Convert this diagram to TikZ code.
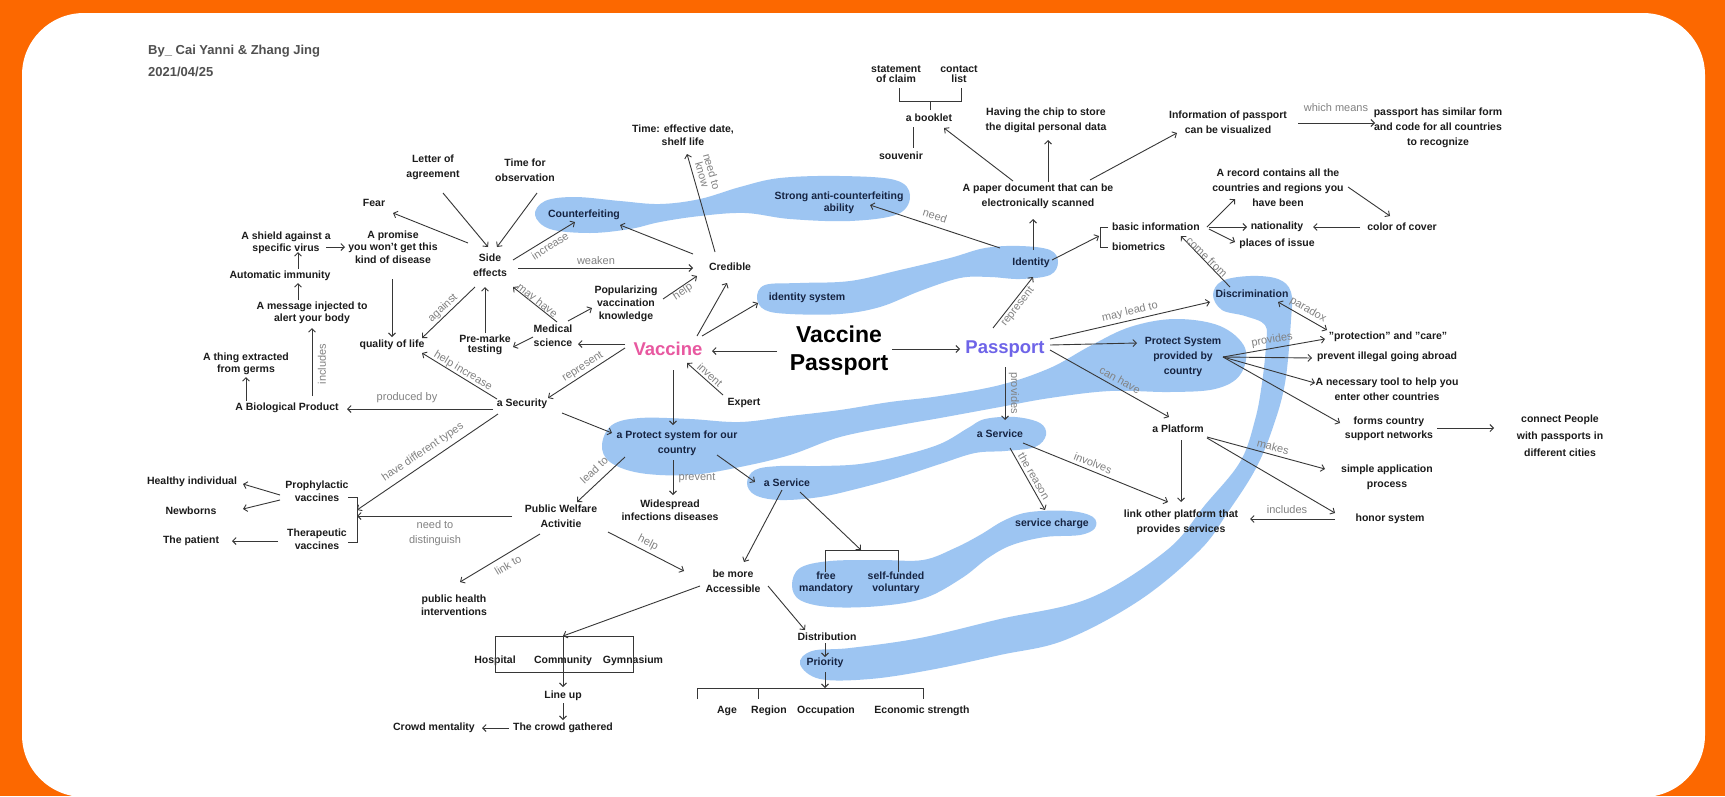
\documentclass[tikz,border=0pt]{standalone}
\usepackage{fontspec}
\setmainfont{Liberation Sans}
\usetikzlibrary{arrows.meta}
\definecolor{orng}{RGB}{252,104,0}
\definecolor{blobc}{RGB}{157,197,242}
\definecolor{ink}{RGB}{28,28,28}
\definecolor{navy}{RGB}{22,36,66}
\definecolor{linec}{RGB}{55,55,55}
\definecolor{labc}{RGB}{130,130,130}
\definecolor{pinkc}{RGB}{232,88,160}
\definecolor{purp}{RGB}{110,100,232}
\definecolor{authc}{RGB}{80,80,80}
\begin{document}
\begin{tikzpicture}[x=1pt,y=-1pt,
 nd/.style={font=\bfseries\fontsize{10.5}{15}\selectfont, text=ink, align=center, inner sep=0pt},
 nds/.style={nd, font=\bfseries\fontsize{10.5}{12.5}\selectfont},
 bn/.style={nd, text=navy},
 bns/.style={nds, text=navy},
 lab/.style={font=\fontsize{11}{11}\selectfont, text=labc, align=center, inner sep=0pt},
 arr/.style={draw=linec, line width=0.9pt, -{Straight Barb[length=3.5pt,width=7pt]}},
 darr/.style={draw=linec, line width=0.9pt, {Straight Barb[length=3.5pt,width=7pt]}-{Straight Barb[length=3.5pt,width=7pt]}},
 ln/.style={draw=linec, line width=0.9pt},
 blob/.style={fill=blobc, draw=none}]

\useasboundingbox (0,0) rectangle (1725,796);
\fill[orng] (0,0) rectangle (1725,796);
\fill[white, rounded corners=62pt] (22,13) rectangle (1705,797);

% ---------- blobs ----------
\fill[blob] plot[smooth cycle, tension=0.6] coordinates {(535,215) (545,201) (575,197) (620,201) (660,204) (700,199) (740,187) (780,178) (840,176) (895,180) (910,195) (898,214) (850,221) (790,219) (745,213) (700,216) (660,222) (630,229) (590,233) (550,229)};
\fill[blob] plot[smooth cycle, tension=0.6] coordinates {(757,298) (765,285) (800,283) (850,281) (900,270) (950,258) (985,248) (1020,246) (1050,250) (1058,262) (1050,275) (1020,279) (990,277) (960,278) (920,291) (880,307) (840,314) (790,314) (765,310)};
\fill[blob] plot[smooth cycle, tension=0.6] coordinates {(602,445) (612,425) (640,418) (690,419) (740,422) (790,416) (840,410) (890,402) (940,396) (1000,385) (1050,368) (1090,346) (1130,327) (1175,319) (1220,326) (1245,348) (1240,375) (1215,389) (1170,392) (1110,391) (1050,398) (1000,407) (940,418) (900,425) (840,437) (790,455) (740,467) (690,475) (640,473) (610,462)};
\fill[blob] plot[smooth cycle, tension=0.6] coordinates {(747,483) (755,470) (780,466) (820,466) (860,464) (900,456) (940,444) (968,428) (985,419) (1015,417) (1040,423) (1046,435) (1035,447) (1005,451) (975,453) (940,464) (900,477) (860,488) (820,497) (780,500) (755,495)};
\fill[blob] plot[smooth cycle, tension=0.6] coordinates {(792,585) (800,568) (830,561) (880,560) (923,560) (955,548) (980,535) (1005,520) (1030,512) (1070,511) (1093,517) (1095,528) (1080,535) (1045,537) (1012,545) (988,558) (962,578) (925,598) (880,606) (830,607) (800,600)};
\fill[blob] plot[smooth cycle, tension=0.6] coordinates {(800,664) (812,651) (850,648) (920,638) (1000,619) (1090,598) (1167,550) (1205,505) (1240,462) (1255,420) (1262,383) (1266,345) (1265,325) (1245,316) (1222,310) (1213,295) (1222,281) (1250,276) (1278,279) (1291,292) (1291,320) (1285,383) (1272,430) (1255,470) (1228,512) (1200,550) (1140,600) (1065,640) (1000,655) (930,670) (870,679) (820,679)};

% ---------- nodes ----------
\node[nd, anchor=west, font=\bfseries\fontsize{13}{16}\selectfont, text=authc] (auth) at (148,51) {By\_ Cai Yanni \& Zhang Jing};
\node[nd, anchor=west, font=\bfseries\fontsize{13}{16}\selectfont, text=authc] (date) at (148,72) {2021/04/25};

\node[nd] (letter) at (433,167) {Letter of\\agreement};
\node[nd] (timeobs) at (525,170) {Time for\\observation};
\node[nd] (fear) at (374,203) {Fear};
\node[nds] (shield) at (286,243) {A shield against a\\specific virus};
\node[nds] (promise) at (393,247) {A promise\\you won't get this\\kind of disease};
\node[nd] (side) at (490,265) {Side\\effects};
\node[nd] (autoimm) at (280,276) {Automatic immunity};
\node[nds] (message) at (312,313) {A message injected to\\alert your body};
\node[nds] (thing) at (246,364) {A thing extracted\\from germs};
\node[nd] (bio) at (287,408) {A Biological Product};
\node[nd] (qol) at (392,345) {quality of life};
\node[nd, font=\bfseries\fontsize{10.5}{10}\selectfont] (premarke) at (485,345) {Pre-marke\\testing};
\node[nd, font=\bfseries\fontsize{10.5}{14}\selectfont] (medsci) at (553,336) {Medical\\science};
\node[nd] (security) at (522,404) {a Security};
\node[nds, font=\bfseries\fontsize{10.5}{13}\selectfont] (popular) at (626,304) {Popularizing\\vaccination\\knowledge};
\node[nd] (credible) at (730,267) {Credible};
\node[nds] (timeeff) at (683,135) {Time: effective date,\\shelf life};
\node[bn] (counterf) at (584,215) {Counterfeiting};
\node[bns] (strong) at (839,203) {Strong anti-counterfeiting\\ability};
\node[bn] (idsys) at (807,298) {identity system};
\node[font=\bfseries\fontsize{18.5}{20}\selectfont, text=pinkc, inner sep=0pt] (vaccine) at (668,349) {Vaccine};
\node[font=\bfseries\fontsize{23}{28}\selectfont, align=center, text=black, inner sep=0pt] (title) at (839,351) {Vaccine\\Passport};
\node[font=\bfseries\fontsize{18.5}{20}\selectfont, text=purp, inner sep=0pt] (passport) at (1005,349) {Passport};
\node[nd] (expert) at (744,403) {Expert};
\node[bn] (protect) at (677,443) {a Protect system for our\\country};
\node[nds] (widespread) at (670,510) {Widespread\\infections diseases};
\node[bn] (service2) at (787,483) {a Service};
\node[nd] (welfare) at (561,516) {Public Welfare\\Activitie};
\node[nds, font=\bfseries\fontsize{10.5}{13.5}\selectfont] (pubhealth) at (454,605) {public health\\interventions};
\node[nd] (bemore) at (733,581) {be more\\Accessible};
\node[bns] (free) at (826,583) {free\\mandatory};
\node[bns] (selff) at (896,583) {self-funded\\voluntary};
\node[nd] (hospital) at (495,661) {Hospital};
\node[nd] (community) at (563,661) {Community};
\node[nd] (gym) at (633,661) {Gymnasium};
\node[nd] (lineup) at (563,696) {Line up};
\node[nd] (crowd) at (563,728) {The crowd gathered};
\node[nd] (mentality) at (434,728) {Crowd mentality};
\node[nd] (distribution) at (827,637) {Distribution};
\node[bn] (priority) at (825,663) {Priority};
\node[nd] (age) at (727,711) {Age};
\node[nd] (region) at (769,711) {Region};
\node[nd] (occupation) at (826,711) {Occupation};
\node[nd] (econ) at (922,711) {Economic strength};
\node[nd] (healthy) at (192,482) {Healthy individual};
\node[nd] (newborns) at (191,511) {Newborns};
\node[nd] (patient) at (191,541) {The patient};
\node[nds] (prophy) at (317,491) {Prophylactic\\vaccines};
\node[nds] (thera) at (317,539) {Therapeutic\\vaccines};

\node[nd, font=\bfseries\fontsize{10.5}{10}\selectfont] (statement) at (896,74) {statement\\of claim};
\node[nd, font=\bfseries\fontsize{10.5}{10}\selectfont] (contact) at (959,74) {contact\\list};
\node[nd] (booklet) at (929,118) {a booklet};
\node[nd] (souvenir) at (901,156) {souvenir};
\node[nd] (having) at (1046,120) {Having the chip to store\\the digital personal data};
\node[nd] (paper) at (1038,196) {A paper document that can be\\electronically scanned};
\node[nd] (info) at (1228,122) {Information of passport\\can be visualized};
\node[nd] (similar) at (1438,128) {passport has similar form\\and code for all countries\\to recognize};
\node[bn] (identity) at (1031,263) {Identity};
\node[nd, anchor=west] (basic) at (1112,227) {basic information};
\node[nd, anchor=west] (biometrics) at (1112,247) {biometrics};
\node[nd] (record) at (1278,188) {A record contains all the\\countries and regions you\\have been};
\node[nd] (nationality) at (1277,227) {nationality};
\node[nd] (colorcover) at (1402,227) {color of cover};
\node[nd] (places) at (1277,244) {places of issue};
\node[bn] (discrim) at (1252,294) {Discrimination};
\node[bn] (protsys) at (1183,357) {Protect System\\provided by\\country};
\node[nd] (platform) at (1178,429) {a Platform};
\node[bn] (service1) at (1000,434) {a Service};
\node[nd] (protection) at (1388,337) {"protection" and "care"};
\node[nd] (prevent) at (1387,357) {prevent illegal going abroad};
\node[nd] (necessary) at (1387,389) {A necessary tool to help you\\enter other countries};
\node[nd, font=\bfseries\fontsize{10.5}{14}\selectfont] (forms) at (1389,429) {forms country\\support networks};
\node[nd, font=\bfseries\fontsize{10.5}{17}\selectfont] (connect) at (1560,436) {connect People\\with passports in\\different cities};
\node[nd] (simple) at (1387,477) {simple application\\process};
\node[nd] (honor) at (1390,519) {honor system};
\node[nd] (linkother) at (1181,522) {link other platform that\\provides services};
\node[bn] (servcharge) at (1052,524) {service charge};

% ---------- brackets and helper points ----------
\coordinate (pbrA) at (357,510);
\coordinate (pbrB) at (357,516);
\coordinate (fbr) at (861,550);
\coordinate (hbr) at (563,636);
\coordinate (obr) at (825,688);
\coordinate (bbr) at (1099,236);
\draw[ln] ([shift={(31,6)}]prophy.center) -- ++(9,0) |- ([shift={(31,3)}]thera.center);
\draw[ln] ([shift={(-1,-11)}]free.center) -- ++(0,-22) -| ([shift={(2,-11)}]selff.center);
\draw[ln] ([shift={(0,-25)}]hospital.center) rectangle ([shift={(0,11)}]gym.center);
\draw[ln] ([shift={(-30,-12)}]age.center) -- ++(0,-11) -| ([shift={(1,-12)}]econ.center);
\draw[ln] ([shift={(-11,-12)}]region.center) -- ++(0,-11);
\draw[ln] ([shift={(3,14)}]statement.center) -- ++(0,13) -| ([shift={(2,14)}]contact.center);
\draw[ln] ([shift={(1,-8)}]booklet.center) -- ++(0,-9);
\draw[ln] ([shift={(-16,9)}]booklet.center) -- ([shift={(12,-8)}]souvenir.center);
\draw[ln] ([shift={(-4,0)}]basic.west) -- ++(-8,0) |- ([shift={(-4,0)}]biometrics.west);

% ---------- arrows (left) ----------
\draw[arr] ([shift={(10,26)}]letter.center) -- ([shift={(-2,-18)}]side.center);
\draw[arr] ([shift={(12,23)}]timeobs.center) -- ([shift={(7,-18)}]side.center);
\draw[arr] ([shift={(-22,-22)}]side.center) -- ([shift={(19,10)}]fear.center);
\draw[arr] ([shift={(40,4)}]shield.center) -- ([shift={(-48,0)}]promise.center);
\draw[arr] ([shift={(18,-7)}]autoimm.center) -- ([shift={(12,9)}]shield.center);
\draw[arr] ([shift={(-14,-13)}]message.center) -- ([shift={(18,7)}]autoimm.center);
\draw[arr] ([shift={(25,-12)}]bio.center) -- ([shift={(0,15)}]message.center);
\draw[arr] ([shift={(-41,-7)}]bio.center) -- ([shift={(0,13)}]thing.center);
\draw[arr] ([shift={(-1,32)}]promise.center) -- ([shift={(0,-8)}]qol.center);
\draw[arr] ([shift={(-15,22)}]side.center) -- ([shift={(30,-7)}]qol.center);
\draw[arr] ([shift={(0,-12)}]premarke.center) -- ([shift={(-5,22)}]side.center);
\draw[arr] ([shift={(-20,1)}]medsci.center) -- ([shift={(28,2)}]premarke.center);
\draw[arr] ([shift={(4,-14)}]medsci.center) -- ([shift={(23,22)}]side.center);
\draw[arr] ([shift={(-25,-5)}]security.center) -- ([shift={(30,8)}]qol.center);
\draw[arr] ([shift={(-29,5)}]security.center) -- ([shift={(60,1)}]bio.center);
\draw[arr] ([shift={(-24,10)}]security.center) -- (pbrA);
\draw[arr] ([shift={(-43,-1)}]vaccine.center) -- ([shift={(26,-6)}]security.center);
\draw[arr] ([shift={(28,3)}]side.center) -- ([shift={(-37,1)}]credible.center);
\draw[arr] ([shift={(23,-5)}]side.center) -- ([shift={(-9,7)}]counterf.center);
\draw[arr] ([shift={(-37,-13)}]credible.center) -- ([shift={(36,10)}]counterf.center);
\draw[arr] ([shift={(-15,-15)}]credible.center) -- ([shift={(4,19)}]timeeff.center);
\draw[arr] ([shift={(15,-15)}]medsci.center) -- ([shift={(-34,4)}]popular.center);
\draw[arr] ([shift={(37,-5)}]popular.center) -- ([shift={(-33,9)}]credible.center);
\draw[arr] ([shift={(29,-13)}]vaccine.center) -- ([shift={(-3,16)}]credible.center);
\draw[arr] ([shift={(34,-13)}]vaccine.center) -- ([shift={(-49,5)}]idsys.center);
\draw[arr] ([shift={(-43,-5)}]vaccine.center) -- ([shift={(25,8)}]medsci.center);
\draw[arr] ([shift={(-62,0)}]title.center) -- ([shift={(44,2)}]vaccine.center);
\draw[arr] ([shift={(53,-2)}]title.center) -- ([shift={(-45,0)}]passport.center);
\draw[arr] ([shift={(-21,-8)}]expert.center) -- ([shift={(19,14)}]vaccine.center);
\draw[arr] ([shift={(5,21)}]vaccine.center) -- ([shift={(-4,-18)}]protect.center);
\draw[arr] ([shift={(40,9)}]security.center) -- ([shift={(-65,-10)}]protect.center);
\draw[arr] ([shift={(40,12)}]protect.center) -- ([shift={(-32,-1)}]service2.center);
\draw[arr] ([shift={(-52,14)}]protect.center) -- ([shift={(16,-14)}]welfare.center);
\draw[arr] ([shift={(-4,17)}]protect.center) -- ([shift={(3,-15)}]widespread.center);
\draw[arr] ([shift={(-49,0)}]welfare.center) -- (pbrB);
\draw[arr] ([shift={(-21,18)}]welfare.center) -- ([shift={(6,-23)}]pubhealth.center);
\draw[arr] ([shift={(47,16)}]welfare.center) -- ([shift={(-49,-10)}]bemore.center);
\draw[arr] ([shift={(-5,7)}]service2.center) -- ([shift={(11,-19)}]bemore.center);
\draw[arr] ([shift={(13,9)}]service2.center) -- (fbr);
\draw[arr] ([shift={(-33,5)}]bemore.center) -- (hbr);
\draw[arr] ([shift={(35,5)}]bemore.center) -- ([shift={(-22,-7)}]distribution.center);
\draw[arr] ([shift={(-2,6)}]distribution.center) -- ([shift={(0,-6)}]priority.center);
\draw[arr] ([shift={(0,9)}]priority.center) -- (obr);
\draw[arr] (hbr) -- ([shift={(0,-9)}]lineup.center);
\draw[arr] ([shift={(0,7)}]lineup.center) -- ([shift={(0,-8)}]crowd.center);
\draw[arr] ([shift={(-54,0)}]crowd.center) -- ([shift={(48,0)}]mentality.center);
\draw[arr] ([shift={(-37,4)}]prophy.center) -- ([shift={(51,2)}]healthy.center);
\draw[arr] ([shift={(-37,9)}]prophy.center) -- ([shift={(52,-2)}]newborns.center);
\draw[arr] ([shift={(-39,2)}]thera.center) -- ([shift={(41,0)}]patient.center);

% ---------- arrows (right) ----------
\draw[arr] ([shift={(-31,-15)}]identity.center) -- ([shift={(31,2)}]strong.center);
\draw[arr] ([shift={(2,-13)}]identity.center) -- ([shift={(-5,23)}]paper.center);
\draw[arr] ([shift={(-25,-15)}]paper.center) -- ([shift={(15,10)}]booklet.center);
\draw[arr] ([shift={(10,-14)}]paper.center) -- ([shift={(2,20)}]having.center);
\draw[arr] ([shift={(52,-16)}]paper.center) -- ([shift={(-51,11)}]info.center);
\draw[arr] ([shift={(70,1)}]info.center) -- ([shift={(-63,-5)}]similar.center);
\draw[arr] ([shift={(21,-3)}]identity.center) -- (bbr);
\draw[arr] ([shift={(7,0)}]basic.east) -- ([shift={(-43,11)}]record.center);
\draw[arr] ([shift={(9,0)}]basic.east) -- ([shift={(-30,0)}]nationality.center);
\draw[arr] ([shift={(9,2)}]basic.east) -- ([shift={(-42,-2)}]places.center);
\draw[arr] ([shift={(70,-1)}]record.center) -- ([shift={(-12,-11)}]colorcover.center);
\draw[arr] ([shift={(-42,0)}]colorcover.center) -- ([shift={(36,0)}]nationality.center);
\draw[arr] ([shift={(-22,-7)}]discrim.center) -- ([shift={(-19,9)}]basic.east);
\draw[arr] ([shift={(-12,-21)}]passport.center) -- ([shift={(2,14)}]identity.center);
\draw[arr] ([shift={(45,-10)}]passport.center) -- ([shift={(-42,8)}]discrim.center);
\draw[arr] ([shift={(45,-4)}]passport.center) -- ([shift={(-46,-14)}]protsys.center);
\draw[arr] ([shift={(45,1)}]passport.center) -- ([shift={(-9,-12)}]platform.center);
\draw[arr] ([shift={(0,18)}]passport.center) -- ([shift={(5,-14)}]service1.center);
\draw[darr] ([shift={(26,8)}]discrim.center) -- ([shift={(-61,-7)}]protection.center);
\draw[arr] ([shift={(40,0)}]protsys.center) -- ([shift={(-63,2)}]protection.center);
\draw[arr] ([shift={(40,0)}]protsys.center) -- ([shift={(-75,1)}]prevent.center);
\draw[arr] ([shift={(40,0)}]protsys.center) -- ([shift={(-72,-6)}]necessary.center);
\draw[arr] ([shift={(40,0)}]protsys.center) -- ([shift={(-49,-6)}]forms.center);
\draw[arr] ([shift={(48,-1)}]forms.center) -- ([shift={(-66,-8)}]connect.center);
\draw[arr] ([shift={(29,8)}]platform.center) -- ([shift={(-62,-8)}]simple.center);
\draw[arr] ([shift={(29,9)}]platform.center) -- ([shift={(-55,-6)}]honor.center);
\draw[arr] ([shift={(3,11)}]platform.center) -- ([shift={(0,-20)}]linkother.center);
\draw[arr] ([shift={(-55,0)}]honor.center) -- ([shift={(69,-3)}]linkother.center);
\draw[arr] ([shift={(23,9)}]service1.center) -- ([shift={(-13,-20)}]linkother.center);
\draw[arr] ([shift={(10,14)}]service1.center) -- ([shift={(-7,-14)}]servcharge.center);

% ---------- connector labels ----------
\node[lab] (Lweaken) at (596,261) {weaken};
\node[lab, rotate=33] (Lincrease) at (550,246) {increase};
\node[lab, rotate=-74, font=\fontsize{11}{10}\selectfont] (Lneedknow) at (707,173) {need to\\know};
\node[lab, rotate=43] (Lagainst) at (443,308) {against};
\node[lab, rotate=-38] (Lmayhave) at (537,301) {may have};
\node[lab, rotate=-31] (Lhelpinc) at (463,371) {help increase};
\node[lab] (Lproduced) at (407,398) {produced by};
\node[lab, rotate=34] (Ltypes) at (423,452) {have different types};
\node[lab, rotate=33] (Lrep1) at (583,367) {represent};
\node[lab, rotate=34] (Lhelp1) at (683,292) {help};
\node[lab, rotate=-42] (Linvent) at (710,375) {invent};
\node[lab, rotate=43] (Lleadto) at (594,470) {lead to};
\node[lab] (Lprevent) at (697,478) {prevent};
\node[lab, font=\fontsize{11}{15}\selectfont] (Ldistinguish) at (435,533) {need to\\distinguish};
\node[lab, rotate=31] (Llinkto) at (508,565) {link to};
\node[lab, rotate=-27] (Lhelp2) at (648,543) {help};
\node[lab, rotate=90] (Lincludes1) at (322,364) {includes};
\node[lab, rotate=-18] (Lneed) at (935,216) {need};
\node[lab] (Lwhich) at (1336,108) {which means};
\node[lab, rotate=-44] (Lcomefrom) at (1207,257) {come from};
\node[lab, rotate=52] (Lrep2) at (1018,307) {represent};
\node[lab, rotate=13] (Lmaylead) at (1130,312) {may lead to};
\node[lab, rotate=-29] (Lcanhave) at (1120,380) {can have};
\node[lab, rotate=-90] (Lprovides1) at (1014,393) {provides};
\node[lab, rotate=-30] (Lparadox) at (1308,310) {paradox};
\node[lab, rotate=10] (Lprovides2) at (1272,340) {provides};
\node[lab, rotate=-15] (Lmakes) at (1273,447) {makes};
\node[lab] (Lincludes2) at (1287,510) {includes};
\node[lab, rotate=-22] (Linvolves) at (1093,463) {involves};
\node[lab, rotate=-60] (Lreason) at (1034,476) {the reason};
\end{tikzpicture}
\end{document}
